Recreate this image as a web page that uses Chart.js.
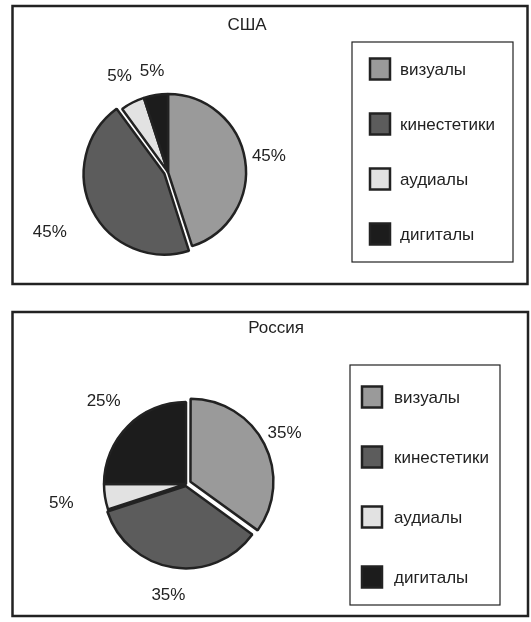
<!doctype html>
<html lang="ru">
<head>
<meta charset="utf-8">
<title>США / Россия</title>
<script src="https://cdn.jsdelivr.net/npm/chart.js@4.4.1/dist/chart.umd.min.js"></script>
<style>
  html, body { margin: 0; padding: 0; background: #fff; }
  #wrap { position: relative; width: 531px; height: 622px; }
  canvas { position: absolute; left: 0; }
  #usaChart { top: 0; }
  #rusChart { top: 298px; }
</style>
</head>
<body>
<div id="wrap">
  <canvas id="usaChart" width="531" height="298"></canvas>
  <canvas id="rusChart" width="531" height="324"></canvas>
</div>
<script>
// данные
const categories = ['визуалы', 'кинестетики', 'аудиалы', 'дигиталы'];
const usaValues = [45, 45, 5, 5];
const rusValues = [35, 35, 5, 25];
const sliceColors = ['#9a9a9a', '#5c5c5c', '#e2e2e2', '#1c1c1c'];

const FONT = '17px "Liberation Sans", Arial, sans-serif';
const INK = '#222';

// рамка, заголовок, легенда и подписи процентов
const panelPlugin = {
  id: 'panel',
  beforeDraw(chart, args, o) {
    const ctx = chart.ctx;
    ctx.save();
    ctx.fillStyle = '#fff';
    ctx.fillRect(0, 0, chart.width, chart.height);

    ctx.strokeStyle = INK;
    ctx.lineWidth = 2.5;
    ctx.strokeRect(o.frame[0], o.frame[1], o.frame[2], o.frame[3]);

    ctx.fillStyle = INK;
    ctx.font = FONT;
    ctx.textAlign = 'center';
    ctx.textBaseline = 'middle';
    ctx.fillText(o.title, o.titlePos[0], o.titlePos[1]);

    // легенда
    const lb = o.legendBox;
    ctx.lineWidth = 1.2;
    ctx.strokeRect(lb[0], lb[1], lb[2], lb[3]);
    const ds = chart.data.datasets[0];
    chart.data.labels.forEach((lab, i) => {
      const cy = o.itemY + i * o.itemStep;
      ctx.fillStyle = ds.backgroundColor[i];
      ctx.fillRect(o.swatchX, cy - 10.5, 20, 21);
      ctx.lineWidth = 2.5;
      ctx.strokeStyle = INK;
      ctx.strokeRect(o.swatchX, cy - 10.5, 20, 21);
      ctx.fillStyle = INK;
      ctx.textAlign = 'left';
      ctx.fillText(lab, o.textX, cy + 1);
    });
    ctx.restore();
  },
  afterDatasetsDraw(chart, args, o) {
    const ctx = chart.ctx;
    const meta = chart.getDatasetMeta(0);
    const vals = chart.data.datasets[0].data;
    ctx.save();
    ctx.fillStyle = INK;
    ctx.font = FONT;
    ctx.textAlign = 'center';
    ctx.textBaseline = 'middle';
    meta.data.forEach((arc, i) => {
      const p = arc.getProps(['x', 'y', 'startAngle', 'endAngle', 'outerRadius'], true);
      const mid = (p.startAngle + p.endAngle) / 2;
      const d = p.outerRadius * o.labelDist[i];
      ctx.fillText(vals[i] + '%', p.x + Math.cos(mid) * d, p.y + Math.sin(mid) * d);
    });
    ctx.restore();
  }
};

function makePie(id, values, radius, pad, offsets, panelOpts) {
  return new Chart(document.getElementById(id), {
    type: 'pie',
    data: {
      labels: categories,
      datasets: [{
        data: values,
        backgroundColor: sliceColors,
        borderColor: INK,
        borderWidth: 2.5,
        offset: offsets // chart.js делит offset на 4 при отрисовке
      }]
    },
    options: {
      responsive: false,
      animation: false,
      devicePixelRatio: 1,
      radius: radius,
      layout: { padding: pad },
      plugins: {
        legend: { display: false },
        tooltip: { enabled: false },
        panel: panelOpts
      }
    },
    plugins: [panelPlugin]
  });
}

makePie('usaChart', usaValues, 78,
  { left: 78, right: 273, top: 82, bottom: 36 },
  [0, 16, 0, 0],
  {
    title: 'США', titlePos: [247, 25],
    frame: [12.5, 6, 515, 278],
    legendBox: [352, 42, 161, 220],
    swatchX: 370, textX: 400, itemY: 69, itemStep: 55,
    labelDist: [1.31, 1.7, 1.37, 1.31]
  });

makePie('rusChart', rusValues, 82,
  { left: 96, right: 255, top: 96, bottom: 48 },
  [20, 8, 0, 0],
  {
    title: 'Россия', titlePos: [276, 30.5],
    frame: [12.5, 14, 515.5, 304],
    legendBox: [350, 67, 150, 240],
    swatchX: 362, textX: 394, itemY: 99, itemStep: 60,
    labelDist: [1.35, 1.37, 1.54, 1.42]
  });
</script>
</body>
</html>
